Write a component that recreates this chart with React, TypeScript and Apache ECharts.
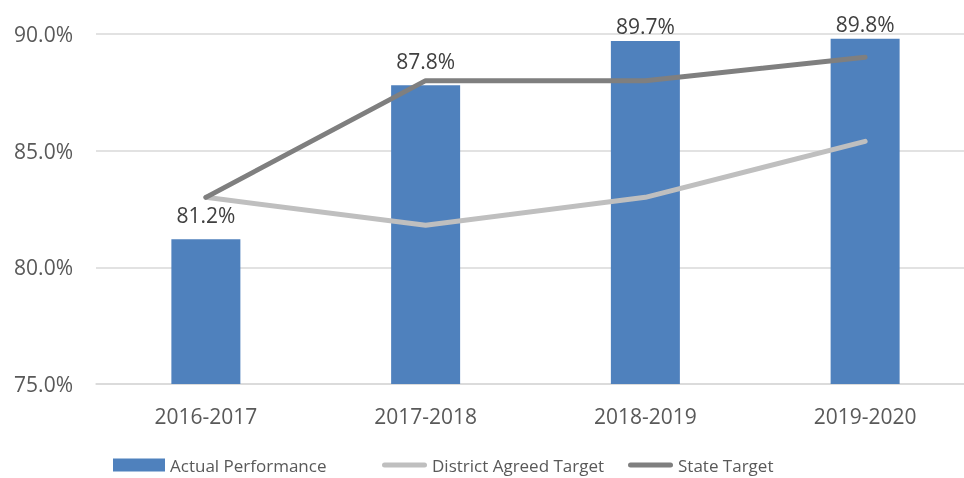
import React, { useEffect, useRef } from "react";
import * as echarts from "echarts";

const categories = ["2016-2017", "2017-2018", "2018-2019", "2019-2020"];
const actualPerformance = [81.2, 87.8, 89.7, 89.8];
const districtAgreedTarget = [83.0, 81.8, 83.0, 85.4];
const stateTarget = [83.0, 88.0, 88.0, 89.0];
const yTicks = { min: 75, max: 90, interval: 5 };
const seriesNames = ["Actual Performance", "District Agreed Target", "State Target"];

// label distances above bars (Excel pushes top labels down into the plot)
const labelDistances = [14, 14, 5, 4];

const FONT = "'Open Sans', 'Noto Sans', sans-serif";
const LINE_ICON = "path://M2.5,0 L42.5,0 A2.5,2.5 0 0 1 42.5,5 L2.5,5 A2.5,2.5 0 0 1 2.5,0 Z";

const legendText = { fontFamily: FONT, fontSize: 17, color: "#595959", lineHeight: 18 };

export default function App() {
  const ref = useRef<HTMLDivElement>(null);
  useEffect(() => {
    if (!ref.current) return;
    const chart = echarts.init(ref.current, undefined, { renderer: "svg" });
    chart.setOption({
      animation: false,
      textStyle: { fontFamily: FONT },
      grid: {
        left: 96,
        top: 34,
        width: 879,
        bottom: 94,
        containLabel: false,
        outerBoundsMode: "none",
      },
      legend: [
        {
          left: 108,
          top: 456,
          padding: [0, 5, 0, 5],
          itemWidth: 52,
          itemHeight: 13,
          textStyle: legendText,
          data: [{ name: seriesNames[0], icon: "rect" }],
        },
        {
          left: 377,
          top: 456,
          padding: [0, 5, 0, 5],
          itemWidth: 45,
          itemHeight: 13,
          textStyle: legendText,
          data: [{ name: seriesNames[1], icon: LINE_ICON }],
        },
        {
          left: 623,
          top: 456,
          padding: [0, 5, 0, 5],
          itemWidth: 45,
          itemHeight: 13,
          textStyle: legendText,
          data: [{ name: seriesNames[2], icon: LINE_ICON }],
        },
      ],
      xAxis: {
        type: "category",
        data: categories,
        axisLine: { show: true, lineStyle: { color: "#D9D9D9", width: 1.5 } },
        axisTick: { show: false },
        axisLabel: { fontFamily: FONT, fontSize: 21, color: "#595959", margin: 21 },
      },
      yAxis: {
        type: "value",
        min: yTicks.min,
        max: yTicks.max,
        interval: yTicks.interval,
        axisLine: { show: false },
        axisTick: { show: false },
        splitLine: { lineStyle: { color: "#D9D9D9", width: 1.5 } },
        axisLabel: {
          fontFamily: FONT,
          fontSize: 21,
          color: "#595959",
          margin: 23,
          formatter: (v: number) => v.toFixed(1) + "%",
        },
      },
      series: [
        {
          name: seriesNames[0],
          type: "bar",
          barWidth: 69,
          itemStyle: { color: "#4F81BD" },
          data: actualPerformance.map((v, i) => ({
            value: v,
            label: { distance: labelDistances[i] },
          })),
          label: {
            show: true,
            position: "top",
            fontFamily: FONT,
            fontSize: 21,
            color: "#404040",
            formatter: (p: any) => p.value.toFixed(1) + "%",
          },
          z: 1,
        },
        {
          name: seriesNames[1],
          type: "line",
          data: districtAgreedTarget,
          symbol: "none",
          lineStyle: { color: "#BFBFBF", width: 5, cap: "round", join: "round" },
          itemStyle: { color: "#BFBFBF" },
          z: 3,
        },
        {
          name: seriesNames[2],
          type: "line",
          data: stateTarget,
          symbol: "none",
          lineStyle: { color: "#7F7F7F", width: 5, cap: "round", join: "round" },
          itemStyle: { color: "#7F7F7F" },
          z: 4,
        },
      ],
    });
    return () => chart.dispose();
  }, []);
  return (
    <div
      ref={ref}
      style={{ position: "fixed", left: 0, top: 0, width: 964, height: 478 }}
    />
  );
}
